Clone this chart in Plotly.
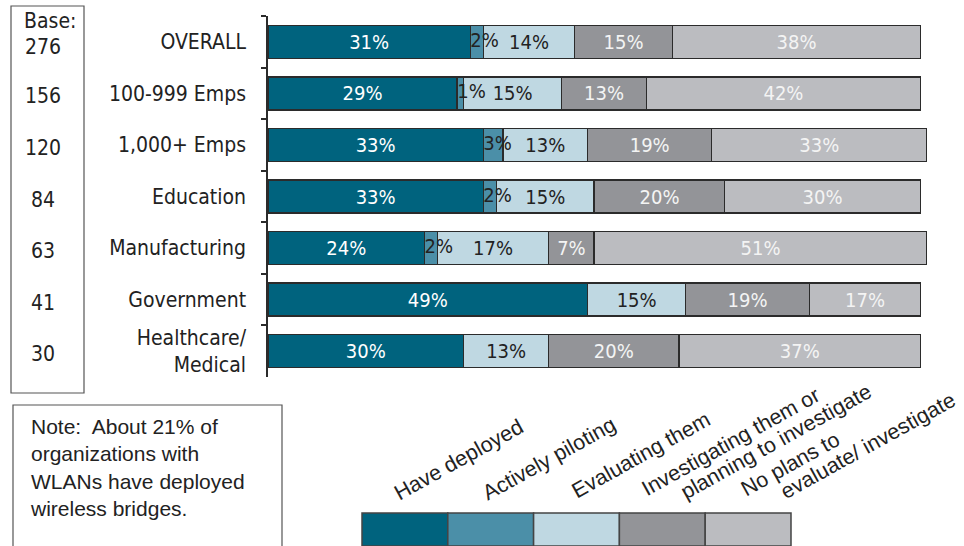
import math
import plotly.graph_objects as go

# Survey results: share of organizations by wireless-bridge status (%)
categories = ["OVERALL", "100-999 Emps", "1,000+ Emps", "Education",
              "Manufacturing", "Government", "Healthcare/<br>Medical"]
bases = [276, 156, 120, 84, 63, 41, 30]

have_deployed = [31, 29, 33, 33, 24, 49, 30]
actively_piloting = [2, 1, 3, 2, 2, 0, 0]
evaluating = [14, 15, 13, 15, 17, 15, 13]
investigating = [15, 13, 19, 20, 7, 19, 20]
no_plans = [38, 42, 33, 30, 51, 17, 37]

series_names = ["Have deployed", "Actively piloting", "Evaluating them",
                "Investigating them or<br>planning to investigate",
                "No plans to<br>evaluate/ investigate"]

COLORS = ["#00637e", "#4b8fa8", "#bfd8e2", "#939498", "#bbbcc0"]
TEXT_COLORS = ["#ffffff", "#222222", "#222222", "#f4f4f4", "#f4f4f4"]
NARROW = "DejaVu Sans Condensed, Liberation Sans Narrow, Arial Narrow, sans-serif"
REGULAR = "Liberation Sans, Arial, sans-serif"
OUTLINE = "#2b2b2b"
INK = "#222222"

W, H = 964, 546
ML, MR, MT, MB = 268, 37, 16, 169
PW, PH = W - ML - MR, H - MT - MB


def px(x):
    return (x - ML) / PW


def py(y):
    return (H - MB - y) / PH


fig = go.Figure()
all_series = [have_deployed, actively_piloting, evaluating, investigating, no_plans]
for i, (name, vals) in enumerate(zip(series_names, all_series)):
    show_text = i != 1
    fig.add_trace(go.Bar(
        x=vals, y=categories, orientation="h", name=name,
        marker=dict(color=COLORS[i], line=dict(color=OUTLINE, width=1.5)),
        text=[f"{v}%" if (show_text and v) else "" for v in vals],
        textposition="inside", insidetextanchor="middle",
        textfont=dict(family=NARROW, size=20, color=TEXT_COLORS[i]),
        showlegend=False, hoverinfo="skip",
    ))

# Narrow "Actively piloting" segments: labels start at the segment and spill right
fig.add_trace(go.Scatter(
    x=have_deployed, y=categories, mode="text",
    text=[f"{v}%" if v else "" for v in actively_piloting],
    textposition="middle right",
    textfont=dict(family=NARROW, size=20, color=INK),
    showlegend=False, hoverinfo="skip", cliponaxis=False,
))

shapes = []
annotations = []

# Base box with sample sizes
shapes.append(dict(type="rect", xref="paper", yref="paper",
                   x0=px(11), x1=px(84), y0=py(393), y1=py(6),
                   line=dict(color="#555555", width=1.2)))
annotations.append(dict(text="Base:", xref="paper", yref="paper",
                        x=px(50), y=py(21), xanchor="center", yanchor="middle",
                        showarrow=False,
                        font=dict(family=NARROW, size=21, color=INK)))
for k, (cat, b) in enumerate(zip(categories, bases)):
    annotations.append(dict(text=str(b), xref="paper", yref="y",
                            x=px(43), y=cat, xanchor="center", yanchor="middle",
                            yshift=-5 if k == 0 else -3, showarrow=False,
                            font=dict(family=NARROW, size=21, color=INK)))

# Note box
shapes.append(dict(type="rect", xref="paper", yref="paper",
                   x0=px(13), x1=px(282), y0=py(560), y1=py(405),
                   line=dict(color="#555555", width=1.2)))
annotations.append(dict(
    text="Note:  About 21% of<br>organizations with<br>WLANs have deployed<br>wireless bridges.",
    xref="paper", yref="paper", x=px(28), y=py(413), xanchor="left", yanchor="top",
    align="left", showarrow=False,
    font=dict(family=REGULAR, size=21, color=INK)))

# Legend swatches
sw_x0, sw_w, sw_y0, sw_y1 = 362, 85.8, 513, 546
for i, c in enumerate(COLORS):
    shapes.append(dict(type="rect", xref="paper", yref="paper",
                       x0=px(sw_x0 + i * sw_w), x1=px(sw_x0 + (i + 1) * sw_w),
                       y0=py(sw_y1), y1=py(sw_y0), fillcolor=c,
                       line=dict(color="#444444", width=1.5)))

# Rotated legend labels; each line placed from its baseline start point
ANGLE = 29
legend_lines = [
    ("Have deployed", 398, 502),
    ("Actively piloting", 486, 502),
    ("Evaluating them", 576, 500),
    ("Investigating them or", 645, 498),
    ("planning to investigate", 684, 501),
    ("No plans to", 745, 498),
    ("evaluate/ investigate", 784, 501),
]
LFS = 21.5
th = math.radians(ANGLE)
box_h = LFS * 1.3
desc = LFS * 0.3
for txt, sx, sy in legend_lines:
    cx = sx + desc * math.sin(th)
    cy = sy + desc * math.cos(th)
    annotations.append(dict(text=txt, xref="paper", yref="paper",
                            x=px(cx - box_h * math.sin(th)), y=py(cy),
                            xanchor="left", yanchor="bottom", textangle=-ANGLE,
                            showarrow=False,
                            font=dict(family=REGULAR, size=LFS, color=INK)))

fig.update_layout(
    width=W, height=H, barmode="stack", bargap=0.36,
    margin=dict(l=ML, r=MR, t=MT, b=MB, pad=0),
    paper_bgcolor="white", plot_bgcolor="white",
    xaxis=dict(range=[0, 101], visible=False),
    yaxis=dict(type="category", categoryorder="array", categoryarray=categories,
               autorange="reversed", showline=True, linecolor=OUTLINE, linewidth=1.5,
               ticks="outside", ticklen=5, tickcolor=OUTLINE, tickwidth=1.5,
               tickson="boundaries", showgrid=False, ticklabelstandoff=16,
               tickfont=dict(family=NARROW, size=21, color=INK)),
    shapes=shapes, annotations=annotations,
)

fig.write_html("out.html")
